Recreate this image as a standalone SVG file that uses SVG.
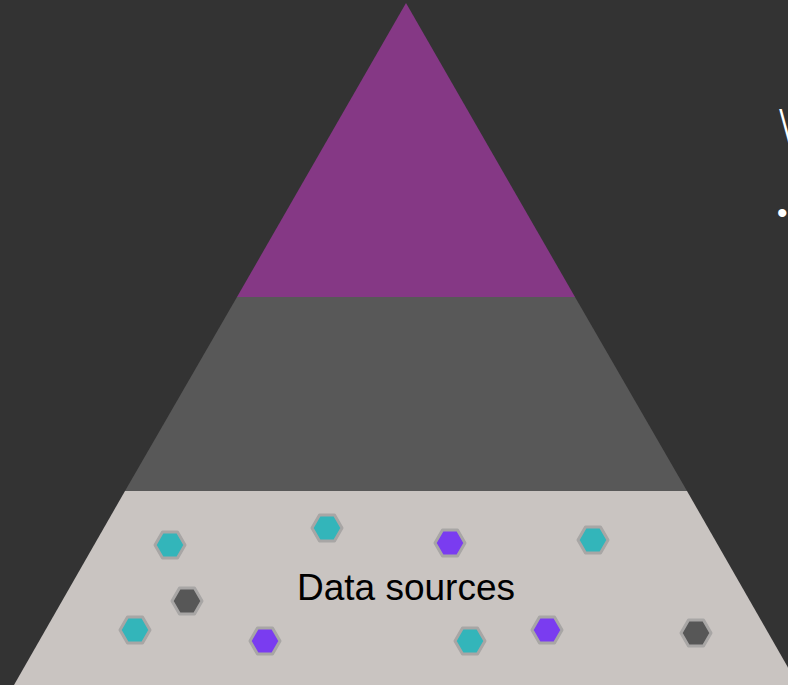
<svg xmlns="http://www.w3.org/2000/svg" width="788" height="685" viewBox="0 0 788 685">
  <style>
    .hex { stroke: #A8A6A5; stroke-width: 3; stroke-linejoin: round; }
    .teal { fill: #33B5BA; }
    .purple { fill: #7A3CF0; }
    .dark { fill: #575757; }
    .label { font-family: "Liberation Sans", Arial, sans-serif; fill: #000000; }
    .side { font-family: "Open Sans", "Liberation Sans", sans-serif; fill: #FFFFFF; font-weight: 300; }
    .bullet { font-family: "Liberation Sans", Arial, sans-serif; fill: #FFFFFF; }
  </style>
  <defs>
    <polygon id="hx" points="-15,0 -7.5,-13 7.5,-13 15,0 7.5,13 -7.5,13"/>
  </defs>
  <rect x="0" y="0" width="788" height="685" fill="#333333"/>
  <g id="tier-top">
    <polygon points="406,3 575,297 237,297" fill="#853885"/>
  </g>
  <g id="tier-middle">
    <polygon points="237,297 575,297 687,491 125,491" fill="#585858"/>
  </g>
  <g id="tier-bottom">
    <polygon points="125,491 687,491 798,685 14,685" fill="#C9C4C1"/>
    <text class="label" x="406" y="600" font-size="37" text-anchor="middle">Data sources</text>
  </g>
  <g id="hexagons">
    <use href="#hx" class="hex teal" x="170" y="545"/>
    <use href="#hx" class="hex dark" x="187" y="601"/>
    <use href="#hx" class="hex teal" x="135" y="630"/>
    <use href="#hx" class="hex purple" x="265" y="641"/>
    <use href="#hx" class="hex teal" x="327" y="528"/>
    <use href="#hx" class="hex purple" x="450" y="543"/>
    <use href="#hx" class="hex teal" x="593" y="540"/>
    <use href="#hx" class="hex teal" x="470" y="641"/>
    <use href="#hx" class="hex purple" x="547" y="630"/>
    <use href="#hx" class="hex dark" x="696" y="633"/>
  </g>
  <g id="side-text">
    <text class="side" x="778" y="143" font-size="48">W</text>
    <text class="bullet" x="777" y="223" font-size="30">•</text>
  </g>
  <g id="connectors"></g>
</svg>
